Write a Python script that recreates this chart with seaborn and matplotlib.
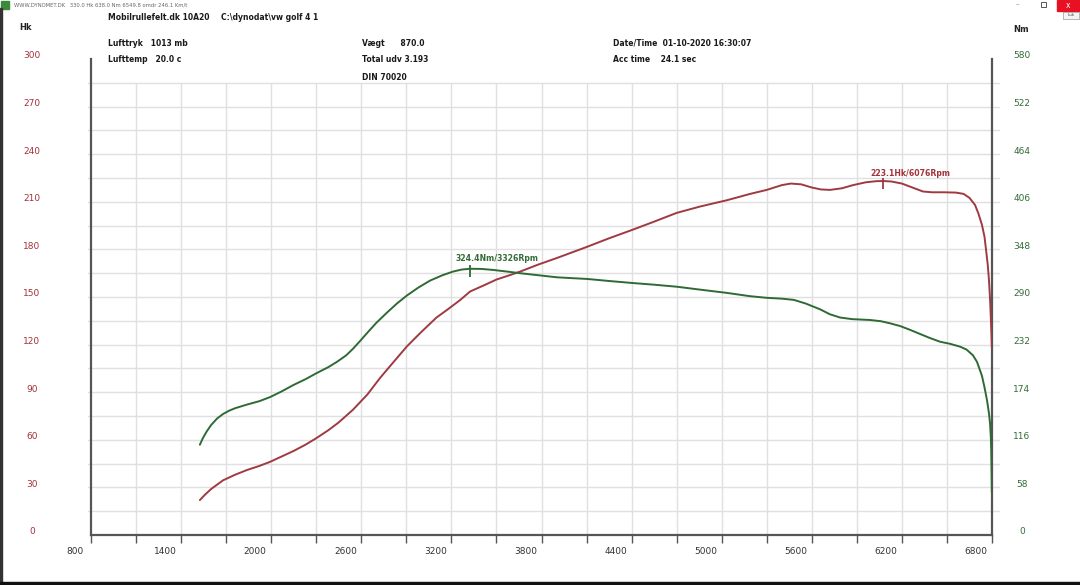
import numpy as np
import pandas as pd
import matplotlib
matplotlib.use("Agg")
import matplotlib.pyplot as plt
import matplotlib.transforms as mtrans
from matplotlib.patches import Rectangle
import seaborn as sns

# ---------------- data ----------------
rpm_power = [1525, 1560, 1600, 1680, 1760, 1840, 1920, 1990, 2070, 2150, 2230, 2300,
             2380, 2450, 2545, 2640, 2725, 2810, 2905, 3000, 3100, 3180, 3257, 3325,
             3420, 3500, 3580, 3657, 3780, 3900, 4000, 4100, 4250, 4410, 4550, 4700,
             4855, 5035, 5190, 5300, 5400, 5460, 5530, 5600, 5660, 5720, 5800, 5874,
             5960, 6030, 6076, 6130, 6200, 6270, 6340, 6400, 6480, 6560, 6610, 6650,
             6687, 6710, 6733, 6750, 6760, 6772, 6780, 6788, 6793, 6797, 6799]
hk_power = [22, 25.5, 29, 34.5, 38, 41, 43.5, 46, 49.5, 53, 57, 61,
            66, 71, 79, 88.5, 99, 108.5, 119, 128, 137, 142.5, 148, 153.5,
            157.5, 161, 163.5, 166, 170.5, 174.5, 178, 181.5, 187, 192.5, 197.5, 203,
            207, 211, 215, 217.5, 220.5, 221.5, 221, 219, 217.8, 217.5, 218.5, 220.5,
            222.3, 223, 223.1, 222.8, 221.5, 219, 216.5, 216, 216, 215.8, 215, 212.5,
            208, 202.5, 195.5, 188, 180, 170, 160.5, 147, 135, 125, 118]

rpm_torque = [1525, 1545, 1570, 1600, 1640, 1680, 1720, 1760, 1840, 1920, 1992, 2070,
              2145, 2230, 2305, 2380, 2438, 2500, 2545, 2590, 2638, 2700, 2771, 2840,
              2905, 2980, 3058, 3140, 3211, 3270, 3326, 3400, 3477, 3570, 3657, 3780,
              3903, 4000, 4103, 4250, 4409, 4550, 4702, 4855, 5035, 5188, 5300, 5400,
              5480, 5560, 5655, 5720, 5788, 5870, 5987, 6060, 6120, 6190, 6254, 6320,
              6387, 6454, 6520, 6587, 6630, 6673, 6700, 6733, 6750, 6767, 6780, 6787,
              6792, 6795, 6797, 6799]
nm_torque = [110, 118, 126, 134, 142, 147.5, 151.5, 154.5, 159, 163, 168, 175,
             182.5, 190, 197.5, 204.5, 211, 219, 227, 236, 246, 258.5, 271, 282.5,
             292, 301.5, 310, 316.5, 321, 323.5, 324.4, 324.2, 323, 321, 319, 316.5,
             314, 313, 312, 309.5, 307, 305, 302.5, 299, 295, 291, 289, 288,
             286.5, 282, 275, 269, 265, 263, 262, 260.5, 258, 254.5, 250, 245,
             240, 235.5, 233, 229.5, 226, 219, 211, 194, 180, 164, 148, 136,
             120, 104, 80, 52]

x_labels = list(range(800, 6801, 600))
x_minor = list(range(1100, 6800, 600))
x_grid = list(range(1100, 6800, 300))
hk_ticks = list(range(0, 301, 30))
hk_grid = list(range(15, 286, 15))
nm_ticks = list(range(0, 581, 58))

peak_hk, peak_hk_rpm = 223.1, 6076
peak_nm, peak_nm_rpm = 324.4, 3326

title_bar = "WWW.DYNOMET.DK   330.0 Hk 638.0 Nm 6549.8 omdr 246.1 Km/t"
header_left = ["Mobilrullefelt.dk 10A20", "Lufttryk   1013 mb", "Lufttemp   20.0 c"]
header_path = "C:\\dynodat\\vw golf 4 1"
header_mid = ["Vægt      870.0", "Total udv 3.193", "DIN 70020"]
header_right = ["Date/Time  01-10-2020 16:30:07", "Acc time    24.1 sec"]

RED = "#9e3a40"
GREEN = "#2f6a35"
RED_TXT = "#a3323a"
GREEN_TXT = "#356b38"
GRID = "#e0e0e0"

# ---------------- figure ----------------
sns.set_theme(style="white")
plt.rcParams["font.family"] = ["DejaVu Sans"]

W, H = 1080, 585
fig = plt.figure(figsize=(W / 100, H / 100), dpi=100)
fig.patch.set_facecolor("white")


def fx(px):
    return px / W


def fy(py):
    return 1 - py / H


ax = fig.add_axes([fx(91), fy(535), (992 - 91) / W, (535 - 59) / H])
ax2 = ax.twinx()
ax.set_facecolor("white")
ax.set_xlim(800, 6800)
ax.set_ylim(0, 300)
ax2.set_ylim(0, 580)

# grid
for v in hk_grid:
    ax.axhline(v, xmin=-3 / 901, xmax=1 + 7 / 901, color=GRID, lw=1.0,
               zorder=0, clip_on=False)
ax.vlines(x_grid, 0, 285, color=GRID, lw=1.0, zorder=0)

# curves
df_p = pd.DataFrame({"rpm": rpm_power, "hk": hk_power})
df_t = pd.DataFrame({"rpm": rpm_torque, "nm": nm_torque})
sns.lineplot(data=df_p, x="rpm", y="hk", ax=ax, color=RED, lw=1.4,
             sort=False, estimator=None, zorder=3)
sns.lineplot(data=df_t, x="rpm", y="nm", ax=ax2, color=GREEN, lw=1.4,
             sort=False, estimator=None, zorder=3)

# peak markers
ax.vlines(peak_hk_rpm, peak_hk - 5, peak_hk + 2, color=RED, lw=1.3, zorder=4)
ax.annotate(f"{peak_hk}Hk/{peak_hk_rpm}Rpm", xy=(peak_hk_rpm, peak_hk),
            xytext=(-13, 8), textcoords="offset pixels", ha="left", va="center",
            fontsize=5.6, weight="bold", color=RED_TXT)
ax2.vlines(peak_nm_rpm, peak_nm - 9.5, peak_nm + 5, color=GREEN, lw=1.3, zorder=4)
ax2.annotate(f"{peak_nm}Nm/{peak_nm_rpm}Rpm", xy=(peak_nm_rpm, peak_nm),
             xytext=(-15, 10), textcoords="offset pixels", ha="left", va="center",
             fontsize=5.6, weight="bold", color=GREEN_TXT)

# spines
for s in ["left", "bottom", "right"]:
    ax.spines[s].set_visible(True)
    ax.spines[s].set_color("#555555")
    ax.spines[s].set_linewidth(1.6)
ax.spines["top"].set_visible(False)
for s in ax2.spines.values():
    s.set_visible(False)

ax.set_xlabel("")
ax.set_ylabel("")
ax2.set_xlabel("")
ax2.set_ylabel("")

# x ticks
ax.set_xticks(x_labels)
ax.set_xticklabels([str(v) for v in x_labels])
ax.set_xticks(x_minor, minor=True)
ax.tick_params(axis="x", which="both", direction="out", length=6, width=1,
               color="#555555", bottom=True, pad=2.5, labelsize=6.5,
               labelcolor="#333333")

# y ticks (left Hk, right Nm)
ax.set_yticks(hk_ticks)
ax.set_yticklabels([str(v) for v in hk_ticks])
ax.tick_params(axis="y", which="both", length=0, left=True, pad=59 * 0.72,
               labelsize=6.5, labelcolor=RED_TXT)
ax2.set_yticks(nm_ticks)
ax2.set_yticklabels([str(v) for v in nm_ticks])
ax2.tick_params(axis="y", which="both", length=0, right=True, pad=30 * 0.72,
                labelsize=6.5, labelcolor=GREEN_TXT)

xoff = mtrans.ScaledTranslation(-16 / 100, 0, fig.dpi_scale_trans)
for lab in ax.get_xticklabels():
    lab.set_ha("center")
    lab.set_transform(lab.get_transform() + xoff)
yoff = mtrans.ScaledTranslation(0, 4 / 100, fig.dpi_scale_trans)
for lab in ax.get_yticklabels():
    lab.set_ha("center")
    lab.set_transform(lab.get_transform() + yoff)
for lab in ax2.get_yticklabels():
    lab.set_ha("center")
    lab.set_transform(lab.get_transform() + yoff)

# axis unit labels
fig.text(fx(25), fy(27), "Hk", fontsize=6, weight="bold", color="#222222",
         ha="center", va="center")
fig.text(fx(1021), fy(29), "Nm", fontsize=6, weight="bold", color="#222222",
         ha="center", va="center")

# header texts
hs = 5.5
fig.text(fx(108), fy(17), header_left[0], fontsize=hs, weight="bold",
         color="#1a1a1a", va="center")
fig.text(fx(221), fy(17), header_path, fontsize=hs, weight="bold",
         color="#1a1a1a", va="center")
for i, t in enumerate(header_left[1:]):
    fig.text(fx(108), fy(43 + 17 * i), t, fontsize=hs, weight="bold",
             color="#1a1a1a", va="center")
for i, t in enumerate(header_mid):
    fig.text(fx(362), fy(43 + 17 * i), t, fontsize=hs, weight="bold",
             color="#1a1a1a", va="center")
for i, t in enumerate(header_right):
    fig.text(fx(613), fy(43 + 17 * i), t, fontsize=hs, weight="bold",
             color="#1a1a1a", va="center")

# window chrome
fig.text(fx(14), fy(5), title_bar, fontsize=3.8, color="#666666", va="center")
fig.add_artist(Rectangle((fx(1), fy(9)), 8 / W, 8 / H, transform=fig.transFigure,
                         color="#3c8a3c", zorder=5))
fig.add_artist(Rectangle((fx(1057), fy(11)), 23 / W, 11 / H,
                         transform=fig.transFigure, color="#e81123", zorder=5))
fig.text(fx(1068), fy(5), "x", fontsize=5.5, color="white", ha="center",
         va="center", zorder=6)
fig.text(fx(1017), fy(4), "–", fontsize=5, color="#777777", ha="center", va="center")
fig.add_artist(Rectangle((fx(1041), fy(7)), 5 / W, 5 / H, transform=fig.transFigure,
                         fill=False, ec="#555555", lw=0.7, zorder=5))
fig.add_artist(Rectangle((fx(1063), fy(19)), 16 / W, 7 / H, transform=fig.transFigure,
                         fc="#f4f4f4", ec="#999999", lw=0.5, zorder=5))
fig.text(fx(1071), fy(15.5), "Luk", fontsize=3, color="#444444", ha="center",
         va="center", zorder=6)

# screenshot border
fig.add_artist(Rectangle((0, 0), 2 / W, fy(8), transform=fig.transFigure,
                         color="#333333", zorder=5))
fig.add_artist(Rectangle((0, 0), 1, 3 / H, transform=fig.transFigure,
                         color="#111111", zorder=5))

fig.savefig("out.png", dpi=100, facecolor="white")
